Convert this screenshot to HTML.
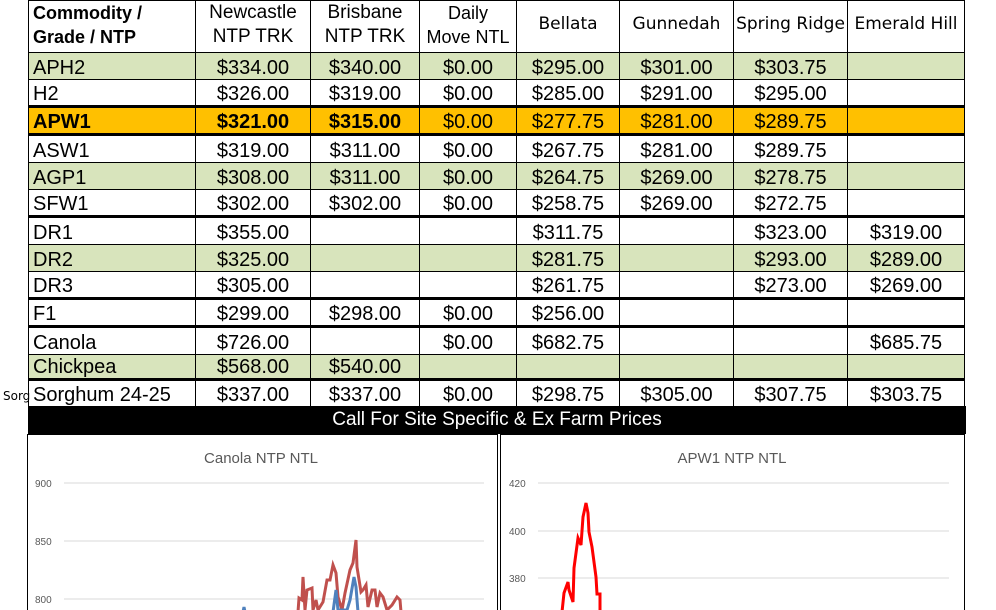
<!DOCTYPE html>
<html><head><style>
body{margin:0;width:996px;height:610px;overflow:hidden;background:#fff;position:relative;font-family:"Liberation Sans",Arial,sans-serif;}
table{position:absolute;left:28px;top:0;border-collapse:collapse;table-layout:fixed;font-size:20px;color:#000;}
td{border:1.5px solid #000;padding:0 0 1px 0;text-align:center;white-space:nowrap;overflow:hidden;line-height:1;vertical-align:bottom;}
td.l{text-align:left;padding-left:4px;}
tr.g td{background:#d8e4bc;}
tr.o td{background:#ffc000;font-weight:bold;}
tr.o td.n{font-weight:normal;}
.tk td{border-bottom:3px solid #000;}
.hd td{font-size:19px;line-height:24px;vertical-align:top;}
.hd td.s{font-family:"DejaVu Sans",sans-serif;font-size:17px;vertical-align:middle;padding-bottom:6px;}
.bar{position:absolute;left:28px;top:406px;width:938px;height:28px;background:#000;color:#fff;font-size:19px;text-align:center;line-height:28px;}
.sorg{position:absolute;left:3px;top:389px;font-size:12px;font-family:"DejaVu Sans",sans-serif;}
</style></head><body>
<div class="sorg">Sorg</div>
<table>
<colgroup><col style="width:167px"><col style="width:115px"><col style="width:109px"><col style="width:97px"><col style="width:103px"><col style="width:114px"><col style="width:114px"><col style="width:117px"></colgroup>
<tr class="hd" style="height:52px"><td class="l" style="font-weight:bold;font-size:18px">Commodity /<br>Grade / NTP</td><td>Newcastle<br>NTP TRK</td><td>Brisbane<br>NTP TRK</td><td style="font-size:18px">Daily<br>Move NTL</td><td class="s">Bellata</td><td class="s">Gunnedah</td><td class="s">Spring Ridge</td><td class="s">Emerald Hill</td></tr>
<tr class="g" style="height:27px"><td class="l">APH2</td><td>$334.00</td><td>$340.00</td><td>$0.00</td><td>$295.00</td><td>$301.00</td><td>$303.75</td><td></td></tr>
<tr style="height:27px"><td class="l">H2</td><td>$326.00</td><td>$319.00</td><td>$0.00</td><td>$285.00</td><td>$291.00</td><td>$295.00</td><td></td></tr>
<tr class="o tk" style="height:28px"><td class="l" style="border-top:3px solid #000">APW1</td><td style="border-top:3px solid #000">$321.00</td><td style="border-top:3px solid #000">$315.00</td><td class="n" style="border-top:3px solid #000">$0.00</td><td class="n" style="border-top:3px solid #000">$277.75</td><td class="n" style="border-top:3px solid #000">$281.00</td><td class="n" style="border-top:3px solid #000">$289.75</td><td style="border-top:3px solid #000"></td></tr>
<tr style="height:28px"><td class="l">ASW1</td><td>$319.00</td><td>$311.00</td><td>$0.00</td><td>$267.75</td><td>$281.00</td><td>$289.75</td><td></td></tr>
<tr class="g" style="height:27px"><td class="l">AGP1</td><td>$308.00</td><td>$311.00</td><td>$0.00</td><td>$264.75</td><td>$269.00</td><td>$278.75</td><td></td></tr>
<tr class="tk" style="height:27px"><td class="l">SFW1</td><td>$302.00</td><td>$302.00</td><td>$0.00</td><td>$258.75</td><td>$269.00</td><td>$272.75</td><td></td></tr>
<tr style="height:28px"><td class="l">DR1</td><td>$355.00</td><td></td><td></td><td>$311.75</td><td></td><td>$323.00</td><td>$319.00</td></tr>
<tr class="g" style="height:27px"><td class="l">DR2</td><td>$325.00</td><td></td><td></td><td>$281.75</td><td></td><td>$293.00</td><td>$289.00</td></tr>
<tr class="tk" style="height:27px"><td class="l">DR3</td><td>$305.00</td><td></td><td></td><td>$261.75</td><td></td><td>$273.00</td><td>$269.00</td></tr>
<tr class="tk" style="height:28px"><td class="l">F1</td><td>$299.00</td><td>$298.00</td><td>$0.00</td><td>$256.00</td><td></td><td></td><td></td></tr>
<tr style="height:28px"><td class="l">Canola</td><td>$726.00</td><td></td><td>$0.00</td><td>$682.75</td><td></td><td></td><td>$685.75</td></tr>
<tr class="g tk" style="height:25px"><td class="l">Chickpea</td><td>$568.00</td><td>$540.00</td><td></td><td></td><td></td><td></td><td></td></tr>
<tr style="height:27px"><td class="l">Sorghum 24-25</td><td>$337.00</td><td>$337.00</td><td>$0.00</td><td>$298.75</td><td>$305.00</td><td>$307.75</td><td>$303.75</td></tr>
</table>
<div class="bar">Call For Site Specific &amp; Ex Farm Prices</div>
<svg style="position:absolute;left:0;top:0" width="996" height="610" font-family="Liberation Sans, sans-serif">
<rect x="27.5" y="434.5" width="470" height="180" fill="#fff" stroke="#000"/>
<rect x="500.5" y="434.5" width="464" height="180" fill="#fff" stroke="#000"/>
<text x="261" y="463" font-size="15" fill="#595959" text-anchor="middle">Canola NTP NTL</text>
<text x="732" y="463" font-size="15" fill="#595959" text-anchor="middle">APW1 NTP NTL</text>
<g stroke="#d9d9d9" stroke-width="1"><line x1="64" y1="483" x2="484" y2="483"/><line x1="64" y1="541" x2="484" y2="541"/><line x1="64" y1="599" x2="484" y2="599"/>
<line x1="538" y1="483" x2="949" y2="483"/><line x1="538" y1="531" x2="949" y2="531"/><line x1="538" y1="578" x2="949" y2="578"/></g>
<g font-size="10" fill="#595959"><text x="35" y="487">900</text><text x="35" y="545">850</text><text x="35" y="603">800</text>
<text x="509" y="487">420</text><text x="509" y="535">400</text><text x="509" y="582">380</text></g>
<polyline fill="none" stroke="#c0504d" stroke-width="3" points="298,612 299,598 302,600 303,577 305,610 307,590 312,588 313,610 316,600 318,610 323,602 327,580 330,580 333,565 336,573 338,597 342,610 345,593 350,570 353,563 356,540 357,567 361,592 363,590 366,585 368,607 372,590 375,590 377,607 380,593 383,597 387,610 392,605 397,597 400,600 401,612"/>
<polyline fill="none" stroke="#4f81bd" stroke-width="3" points="333,612 336,590 338,610 347,610 350,600 354,577 356,587 358,612"/>
<polyline fill="none" stroke="#4f81bd" stroke-width="3" points="243,612 244,607 245,612"/>
<polyline fill="none" stroke="#ff0000" stroke-width="3" points="562,612 564,593 568,582 569,590 573,602 574,568 578,538 581,545 583,517 586,503 588,513 589,532 592,547 594,562 596,577 597,594 600,594 600,612"/>
</svg>
</body></html>
